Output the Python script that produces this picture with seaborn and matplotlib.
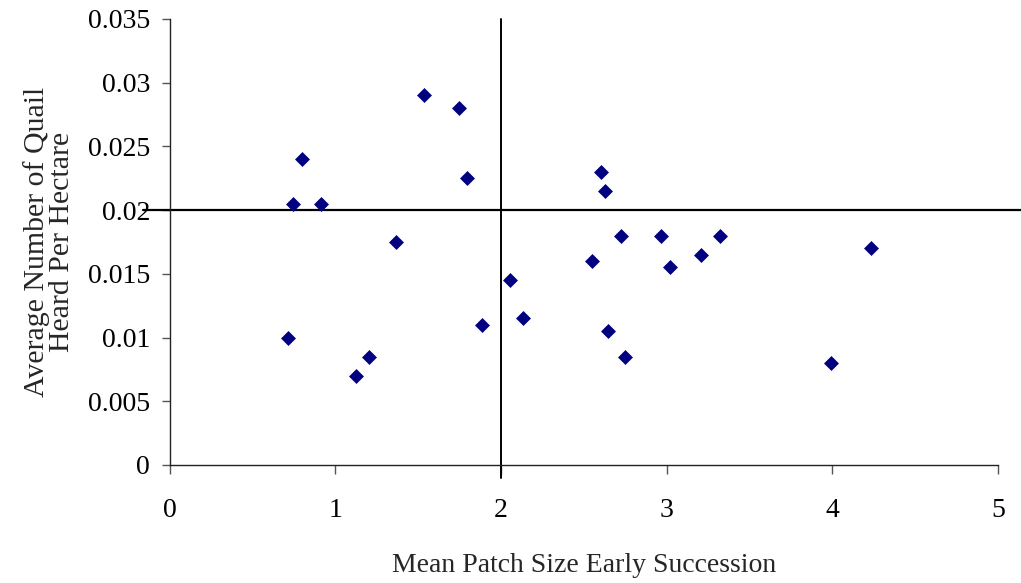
import matplotlib
matplotlib.use("Agg")
import matplotlib.pyplot as plt
import seaborn as sns
import pandas as pd

# Mean patch size of early-successional habitat per site
patch_size = [0.716, 0.745, 0.799, 0.912, 1.127, 1.207, 1.369, 1.534, 1.745, 1.793,
              1.885, 2.053, 2.132, 2.550, 2.607, 2.627, 2.648, 2.726, 2.750, 2.967,
              3.020, 3.206, 3.323, 3.990, 4.233]
# Average number of quail heard per hectare at each site
quail_density = [0.0100, 0.0205, 0.0240, 0.0205, 0.0070, 0.0085, 0.0175, 0.0290, 0.0280, 0.0225,
                 0.0110, 0.0145, 0.0115, 0.0160, 0.0230, 0.0215, 0.0105, 0.0180, 0.0085, 0.0180,
                 0.0155, 0.0165, 0.0180, 0.0080, 0.0170]

x_ticks = [0, 1, 2, 3, 4, 5]
y_ticks = [0, 0.005, 0.01, 0.015, 0.02, 0.025, 0.03, 0.035]
y_tick_labels = ["0", "0.005", "0.01", "0.015", "0.02", "0.025", "0.03", "0.035"]

# Quadrant dividers
x_split = 2
y_split = 0.02

df = pd.DataFrame({"patch": patch_size, "quail": quail_density})

sns.set_style("white")
plt.rcParams["font.family"] = ["Liberation Serif", "DejaVu Serif"]

fig = plt.figure(figsize=(10.21, 5.83), dpi=100)
ax = fig.add_axes([169.5 / 1021, 118 / 583, 828.5 / 1021, 446 / 583])

sns.scatterplot(data=df, x="patch", y="quail", marker="D", s=58, color="#000080",
                linewidth=0, ax=ax, zorder=3)

ax.set_xlim(0, 5)
ax.set_ylim(0, 0.035)
ax.set_xticks(x_ticks)
ax.set_xticklabels([str(t) for t in x_ticks])
ax.set_yticks(y_ticks)
ax.set_yticklabels(y_tick_labels)

for side in ("top", "right"):
    ax.spines[side].set_visible(False)
for side in ("left", "bottom"):
    ax.spines[side].set_color("#222222")
    ax.spines[side].set_linewidth(1.0)

ax.tick_params(axis="x", bottom=True, direction="out", length=6.5, width=1, color="#555555",
               pad=17, labelsize=20, labelcolor="black")
ax.tick_params(axis="y", left=True, direction="out", length=6, width=1, color="#555555",
               pad=8, labelsize=20, labelcolor="black")

# Quadrant divider lines, extending past the plot area
ax.plot([-0.16, 5.15], [y_split, y_split], color="black", lw=1.6, clip_on=False, zorder=2)
ax.plot([x_split, x_split], [-0.001, 0.035], color="black", lw=1.4, clip_on=False, zorder=2)

ax.set_xlabel("Mean Patch Size Early Succession", fontsize=20, labelpad=22)
ax.set_ylabel("Average Number of Quail\nHeard Per Hectare", fontsize=21.5, labelpad=9,
              linespacing=0.95)

fig.savefig("out.png", dpi=100, facecolor="white")
